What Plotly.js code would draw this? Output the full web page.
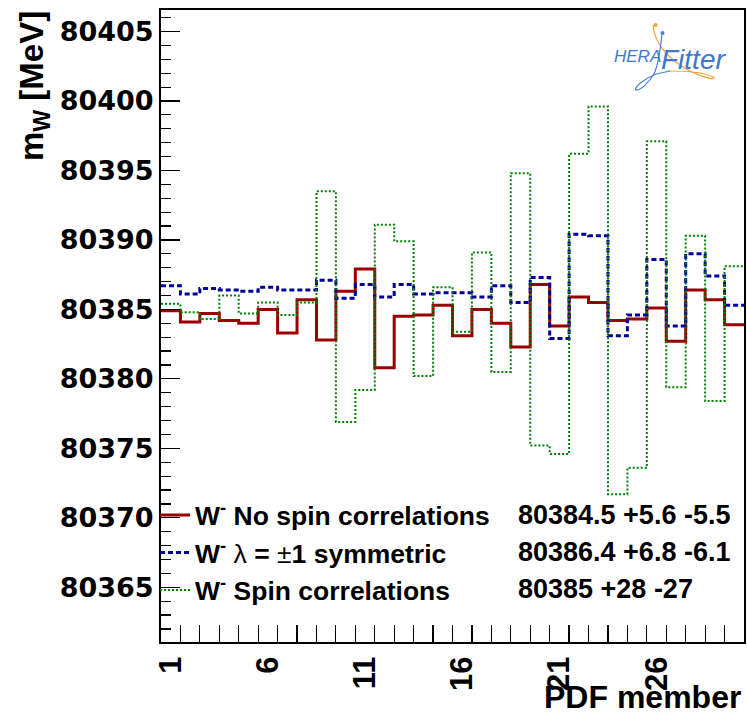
<!DOCTYPE html>
<html><head><meta charset="utf-8">
<script src="https://cdn.plot.ly/plotly-3.0.1.min.js"></script>
<style>body{margin:0;background:#fff}</style>
</head><body><div id="chart" style="width:747px;height:718px"></div>
<script>
// ---- data ----
const members = [1,2,3,4,5,6,7,8,9,10,11,12,13,14,15,16,17,18,19,20,21,22,23,24,25,26,27,28,29,30];
const noSpinCorr = [80384.9,80384.1,80384.7,80384.2,80384.0,80385.0,80383.3,80385.7,80382.8,80386.3,
                    80387.9,80380.8,80384.5,80384.6,80385.3,80383.1,80385.0,80384.0,80382.3,80386.8,
                    80383.8,80385.9,80385.5,80384.2,80384.3,80385.1,80382.7,80386.4,80385.7,80383.9];
const lambdaSym  = [80386.7,80386.1,80386.5,80386.4,80386.3,80386.6,80386.4,80386.4,80387.1,80385.8,
                    80386.8,80385.9,80386.8,80386.1,80386.2,80386.2,80385.9,80386.7,80385.5,80387.3,
                    80382.9,80390.4,80390.3,80383.1,80384.6,80388.6,80383.8,80389.0,80387.4,80385.3];
const spinCorr   = [80385.4,80384.8,80384.3,80386.0,80384.7,80385.5,80384.6,80385.5,80393.5,80376.9,
                    80379.2,80391.1,80389.9,80380.2,80386.6,80383.4,80389.1,80380.5,80394.8,80375.2,
                    80374.6,80396.2,80399.6,80371.7,80373.6,80397.1,80379.4,80390.3,80378.4,80388.1];
const seriesNames = ["W<sup>-</sup> No spin correlations",
                     "W<sup>-</sup> <span style=\"font-weight:normal\">λ</span> = <span style=\"font-weight:normal\">±</span>1 symmetric",
                     "W<sup>-</sup> Spin correlations"];
const seriesResults = ["80384.5 +5.6 -5.5", "80386.4 +6.8 -6.1", "80385 +28 -27"];
const xTickVals = [1,6,11,16,21,26];
const xTickLabels = ["1","6","11","16","21","26"];
const yRange = [80361.06, 80406.55];
const xTitle = "PDF member";
const yTitle = "m<sub>W</sub> [MeV]";

// ---- geometry helpers (pixel -> paper) ----
const L=161, R=744, T=10, B=642.3;
const px = x => (x-L)/(R-L);
const py = y => (B-y)/(B-T);
function pathPx(s){ return s.replace(/(-?[\d.]+),(-?[\d.]+)/g,(m,a,b)=>px(+a).toFixed(4)+','+py(+b).toFixed(4)); }

// step outline built from bin values (bin edges at member +- 0.5)
function stepX(){ return members.map(m=>m-0.5).concat([members[members.length-1]+0.5]); }
function stepY(v){ return v.concat([v[v.length-1]]); }

const traces = [
  {x:stepX(), y:stepY(noSpinCorr), name:seriesNames[0], type:'scatter', mode:'lines',
   line:{shape:'hv', color:'#990000', width:3}},
  {x:stepX(), y:stepY(lambdaSym), name:seriesNames[1], type:'scatter', mode:'lines',
   line:{shape:'hv', color:'#000099', width:3, dash:'5px,3px'}},
  {x:stepX(), y:stepY(spinCorr), name:seriesNames[2], type:'scatter', mode:'lines',
   line:{shape:'hv', color:'#008000', width:2, dash:'2px,2px'}}
];

const bold = {family:'Liberation Sans, Arial, sans-serif', weight:'bold', color:'#000'};
const edgeVals = members.slice(1).map(m=>m-0.5);

const layout = {
  width:747, height:718,
  margin:{l:L, r:747-R, t:T, b:718-B},
  paper_bgcolor:'#fff', plot_bgcolor:'#fff',
  showlegend:true,
  legend:{x:px(155), y:py(491.6), xanchor:'left', yanchor:'top', bgcolor:'rgba(0,0,0,0)',
          font:Object.assign({size:26.5}, bold), itemwidth:30, tracegroupgap:0},
  xaxis:{range:[0.5,30.5], tickmode:'array', tickvals:xTickVals, ticktext:xTickLabels,
         ticks:'inside', ticklen:0, tickwidth:1, tickcolor:'#000',
         tickangle:-90, tickfont:Object.assign({size:31}, bold),
         showline:true, mirror:true, linecolor:'#000', linewidth:2,
         showgrid:false, zeroline:false,
         minor:{tickmode:'array', tickvals:edgeVals, ticks:'inside', ticklen:17, tickwidth:1.2, tickcolor:'#000', showgrid:false}},
  yaxis:{range:yRange, tickmode:'linear', tick0:80365, dtick:5, tickformat:'d',
         ticks:'inside', ticklen:19, tickwidth:1.2, tickcolor:'#000',
         tickfont:{family:'DejaVu Sans, sans-serif', weight:'bold', size:27, color:'#000'},
         showline:true, mirror:true, linecolor:'#000', linewidth:2,
         showgrid:false, zeroline:false,
         minor:{tick0:80365, dtick:1, ticks:'inside', ticklen:10, tickwidth:1.2, tickcolor:'#000', showgrid:false}},
  annotations:[
    {text:xTitle, xref:'paper', yref:'paper', x:px(743), y:py(717.5), xanchor:'right', yanchor:'bottom',
     showarrow:false, font:Object.assign({size:32}, bold)},
    {text:yTitle, xref:'paper', yref:'paper', x:px(34), y:py(9), xanchor:'center', yanchor:'top',
     textangle:-90, showarrow:false, font:Object.assign({size:33}, bold)},
    {text:seriesResults[0], xref:'paper', yref:'paper', x:px(516), y:py(515), xanchor:'left', yanchor:'middle', showarrow:false, font:Object.assign({size:27}, bold)},
    {text:seriesResults[1], xref:'paper', yref:'paper', x:px(516), y:py(552), xanchor:'left', yanchor:'middle', showarrow:false, font:Object.assign({size:27}, bold)},
    {text:seriesResults[2], xref:'paper', yref:'paper', x:px(516), y:py(589), xanchor:'left', yanchor:'middle', showarrow:false, font:Object.assign({size:27}, bold)},
    {text:'HERA', xref:'paper', yref:'paper', x:px(612), y:py(57), xanchor:'left', yanchor:'middle', showarrow:false,
     font:{family:'Liberation Sans, Arial, sans-serif', style:'italic', size:17, color:'#3d78cc'}},
    {text:'Fitter', xref:'paper', yref:'paper', x:px(659), y:py(60), xanchor:'left', yanchor:'middle', showarrow:false,
     font:{family:'Liberation Sans, Arial, sans-serif', style:'italic', size:28, color:'#3d78cc'}}
  ],
  shapes:[
    {type:'path', xref:'paper', yref:'paper', path:pathPx('M653,25 C654,42 668,60 690,71 C704,78 718,81 713,77 C704,72 684,71 668,71'),
     line:{color:'#f0a030', width:1.2}},
    {type:'path', xref:'paper', yref:'paper', path:pathPx('M662,33 C661,45 659,60 655,72 C650,82 640,91 636,90 C633,88 644,79 656,74 L670,71'),
     line:{color:'#4a80d0', width:1.2}},
    {type:'circle', xref:'paper', yref:'paper', x0:px(653.5), x1:px(657.5), y0:py(23), y1:py(27), fillcolor:'#f0a030', line:{width:0}},
    {type:'circle', xref:'paper', yref:'paper', x0:px(660.5), x1:px(664.5), y0:py(31), y1:py(35), fillcolor:'#4a80d0', line:{width:0}}
  ]
};

Plotly.newPlot('chart', traces, layout, {displayModeBar:false, staticPlot:true});
</script>
</body></html>
